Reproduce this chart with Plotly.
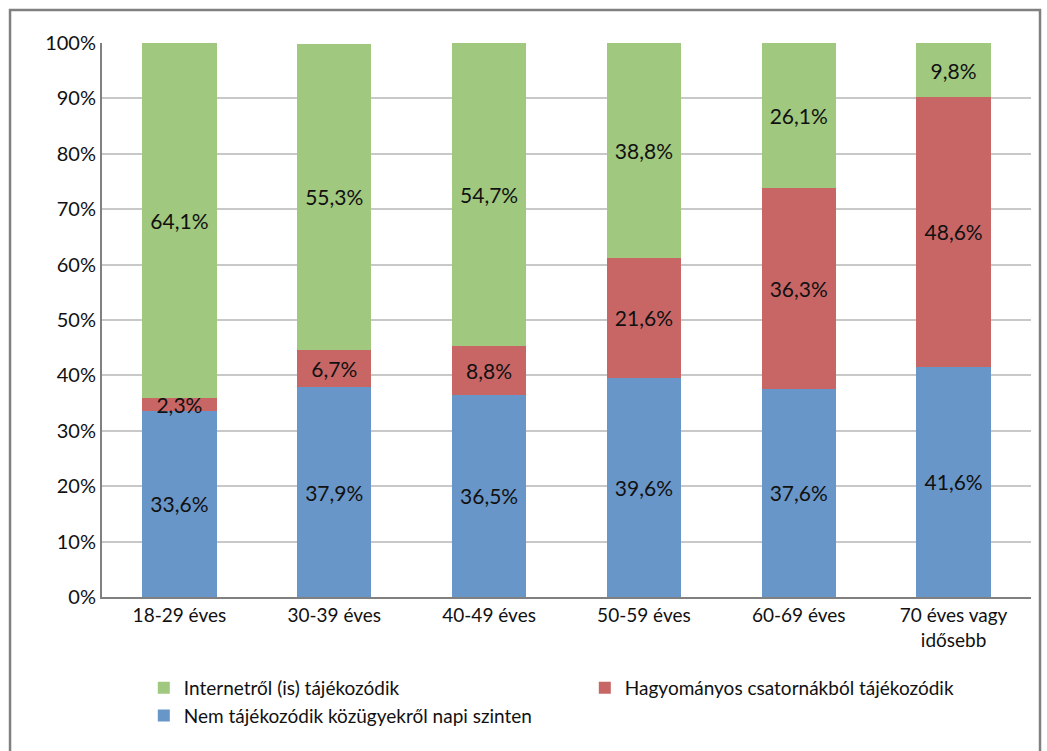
import plotly.graph_objects as go

# korcsoportok
kategoriak = ["18-29 éves", "30-39 éves", "40-49 éves", "50-59 éves",
              "60-69 éves", "70 éves vagy<br>idősebb"]

# arányok (%)
nem_tajekozodik = [33.6, 37.9, 36.5, 39.6, 37.6, 41.6]
hagyomanyos = [2.3, 6.7, 8.8, 21.6, 36.3, 48.6]
internet = [64.1, 55.3, 54.7, 38.8, 26.1, 9.8]

y_tick_vals = [0, 10, 20, 30, 40, 50, 60, 70, 80, 90, 100]
y_tick_text = [f"{v}%" for v in y_tick_vals]

BETU = "Lato"


def cimke(ertekek):
    return [f"{v:.1f}%".replace(".", ",") for v in ertekek]


fig = go.Figure()
sorozatok = [
    ("Nem tájékozódik közügyekről napi szinten", nem_tajekozodik, "#6996C8"),
    ("Hagyományos csatornákból tájékozódik", hagyomanyos, "#C86666"),
    ("Internetről (is) tájékozódik", internet, "#A0C87E"),
]
for nev, ertek, szin in sorozatok:
    fig.add_trace(go.Bar(
        x=kategoriak, y=ertek, name=nev,
        marker=dict(color=szin, line=dict(width=0)),
        text=cimke(ertek), textposition="inside", insidetextanchor="middle",
        textfont=dict(family=BETU, size=21, color="#111111"),
        textangle=0,
    ))

fig.update_layout(
    barmode="stack",
    bargap=0.52,
    width=1047, height=751,
    margin=dict(l=102, r=16, t=43, b=154),
    plot_bgcolor="white", paper_bgcolor="white",
    font=dict(family=BETU, size=19, color="#111111"),
    uniformtext=dict(minsize=21, mode="show"),
    showlegend=True,
    legend=dict(
        orientation="h", traceorder="reversed",
        x=0.045, xanchor="left", y=-0.13, yanchor="top",
        entrywidth=396, entrywidthmode="pixels",
        font=dict(family=BETU, size=19, color="#111111"),
        itemwidth=30, tracegroupgap=0,
    ),
    xaxis=dict(
        showline=True, linecolor="#808080", linewidth=2,
        ticks="", showgrid=False,
        tickfont=dict(family=BETU, size=19),
    ),
    yaxis=dict(
        range=[0, 100], tickvals=y_tick_vals, ticktext=y_tick_text,
        showline=True, linecolor="#808080", linewidth=2,
        showgrid=True, gridcolor="#C8C8C8", gridwidth=2,
        ticks="", ticklen=0,
        tickfont=dict(family=BETU, size=20),
        zeroline=False,
    ),
    shapes=[dict(
        type="rect", xref="paper", yref="paper",
        x0=-0.099, x1=1.0097, y0=-0.32, y1=1.0596,
        line=dict(color="#808080", width=2.5), fillcolor="rgba(0,0,0,0)",
        layer="below",
    )],
)

fig.write_html("out.html", config={"displayModeBar": False},
               post_script="document.body.style.margin='0';")
